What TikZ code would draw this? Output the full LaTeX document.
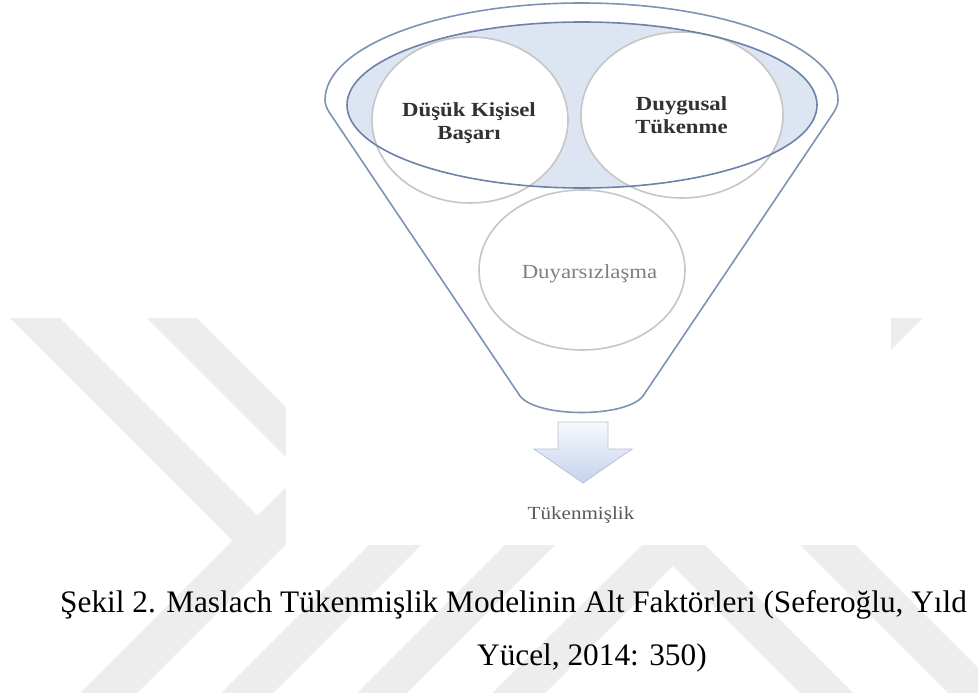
\documentclass[tikz,border=0pt]{standalone}
\usepackage{fontspec}
\setmainfont{Liberation Serif}
\newfontfamily\diagfont[FakeStretch=1.14]{Liberation Serif}
\definecolor{wm}{RGB}{237,237,237}
\definecolor{funnelline}{RGB}{125,146,181}
\definecolor{rimline}{RGB}{108,130,168}
\definecolor{rimfill}{RGB}{221,229,242}
\definecolor{circline}{RGB}{198,198,198}
\definecolor{arrowline}{RGB}{183,195,214}
\definecolor{arrowtop}{RGB}{247,249,253}
\definecolor{arrowbot}{RGB}{196,211,236}
\definecolor{lbldark}{RGB}{50,50,50}
\definecolor{lblgray}{RGB}{128,128,128}
\definecolor{lblmid}{RGB}{90,90,90}
\begin{document}
\begin{tikzpicture}[x=1pt,y=-1pt,
  stripe/.style={fill=wm,draw=none},
  funnelsty/.style={draw=funnelline,line width=1.6pt,fill=white},
  rimfillsty/.style={fill=rimfill,draw=none},
  rimlinesty/.style={draw=rimline,line width=1.6pt},
  factor/.style={draw=circline,line width=1.6pt,fill=white},
  boldlbl/.style={font=\diagfont\bfseries\fontsize{20}{23}\selectfont,text=lbldark,align=center,inner sep=0pt},
  softlbl/.style={font=\diagfont\fontsize{20}{23}\selectfont,text=lblgray,inner sep=0pt,anchor=base},
  resultlbl/.style={font=\diagfont\fontsize{18.5}{22}\selectfont,text=lblmid,inner sep=0pt,anchor=base},
  blockarrow/.style={draw=arrowline,line width=0.8pt,top color=arrowtop,bottom color=arrowbot},
  captionsty/.style={font=\fontsize{31.3}{38}\selectfont,text=black,inner sep=0pt,anchor=base west}]
\useasboundingbox (0,0) rectangle (978,693);
\fill[white] (0,0) rectangle (978,693);
% watermark stripes
\fill[stripe] (10,318) -- (60,318) -- (271,529) -- (246,554) -- cycle;
\fill[stripe] (147,318) -- (197,318) -- (422.5,543.5) -- (371.5,542.5) -- cycle;
\fill[stripe] (80,693) -- (137,693) -- (370,460) -- (313,460) -- cycle;
\fill[stripe] (221,693) -- (273,693) -- (422.5,543.5) -- (371.5,542.5) -- cycle;
\fill[stripe] (357,693) -- (407,693) -- (560,540) -- (510,540) -- cycle;
\fill[stripe] (873,318) -- (923,318) -- (545,693) -- (492,693) -- cycle;
\fill[stripe] (672.5,512.5) -- (853,693) -- (800,693) -- (672.5,565.5) -- cycle;
\fill[stripe] (573,318) -- (628,318) -- (1003,693) -- (948,693) -- cycle;
% white picture area
\fill[white] (286,0) rectangle (891,545);
% funnel
\draw[funnelsty] (520,396) -- (329,112) .. controls (326,107) and (325,103) .. (325,100)
  arc[start angle=180,end angle=360,x radius=256.5,y radius=97]
  .. controls (838,103) and (837,107) .. (834,112) -- (643,396)
  .. controls (626,418) and (537,418) .. (520,396) -- cycle;
% rim of funnel
\fill[rimfillsty] (582,105) ellipse[x radius=235,y radius=83];
% three factors
\draw[factor] (470,120) ellipse[x radius=98,y radius=83];
\draw[factor] (682,115) ellipse[x radius=101,y radius=83];
\draw[factor] (582,270) ellipse[x radius=103,y radius=80];
\draw[rimlinesty] (582,105) ellipse[x radius=235,y radius=83];
% labels
\node[boldlbl] (dkb) at (469,123.6) {Düşük Kişisel\\Başarı};
\node[boldlbl] (dt) at (681.5,114.7) {Duygusal\\Tükenme};
\node[softlbl] (dy) at (589.5,278) {Duyarsızlaşma};
% block arrow and result
\draw[blockarrow] (558,422) -- (608,422) -- (608,449) -- (632,449) -- (583,483)
  -- (534,449) -- (558,449) -- cycle;
\node[resultlbl] (tk) at (581,519) {Tükenmişlik};
% caption
\node[captionsty] (cap1) at (60,612) {Şekil 2. Maslach Tükenmişlik Modelinin Alt Faktörleri (Seferoğlu, Yıld};
\node[captionsty] (cap2) at (477,665) {Yücel, 2014: 350)};
\end{tikzpicture}
\end{document}
